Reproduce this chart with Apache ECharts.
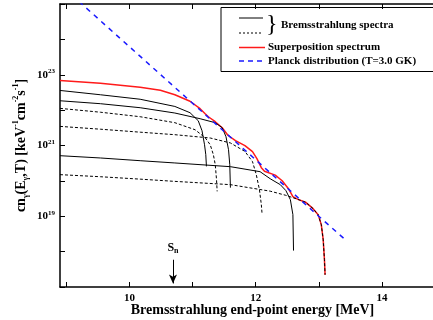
<!DOCTYPE html>
<html>
<head>
<meta charset="utf-8">
<script src="https://cdn.jsdelivr.net/npm/echarts@6/dist/echarts.min.js"></script>
<style>
    html, body { margin: 0; padding: 0; background: #fff; }
    #chart { width: 433px; height: 320px; }
</style>
</head>
<body>
<div id="chart"></div>
<script>
// [end-point energy MeV, c*n(E,T)]
const superposition = [[8.9, 6.9e22], [9.54, 5.75e22], [10.17, 4.44e22], [10.49, 3.65e22], [10.72, 2.72e22],
    [10.96, 1.78e22], [11.12, 1.10e22], [11.20, 7.9e21], [11.25, 6.5e21], [11.36, 4.7e21], [11.47, 3.18e21],
    [11.56, 1.95e21], [11.68, 1.37e21], [11.83, 9.9e20], [11.95, 6.7e20], [12.02, 4.24e20], [12.09, 2.36e20],
    [12.14, 1.88e20], [12.31, 1.45e20], [12.42, 1.01e20], [12.52, 6.0e19], [12.59, 3.6e19], [12.67, 3.0e19],
    [12.79, 2.5e19], [12.91, 1.64e19], [12.99, 1.11e19], [13.04, 5.8e18], [13.07, 2.2e18], [13.09, 5.9e17],
    [13.10, 2.2e17]];
const bremsSolidA = [[8.9, 3.60e22], [9.54, 2.72e22], [10.17, 2.03e22], [10.72, 1.27e22], [10.96, 8.45e21],
    [11.09, 5.02e21], [11.15, 2.62e21], [11.19, 1.05e21], [11.21, 5.5e20], [11.22, 2.57e20]];
const bremsSolidB = [[8.9, 1.84e22], [9.54, 1.52e22], [10.17, 1.17e22], [10.72, 8.28e21], [11.12, 5.71e21],
    [11.36, 4.41e21], [11.47, 3.18e21], [11.53, 1.77e21], [11.57, 7.61e20], [11.59, 2.87e20], [11.60, 6.43e19]];
const bremsSolidC = [[8.9, 5.15e20], [9.54, 4.44e20], [10.17, 3.72e20], [10.72, 3.21e20], [11.60, 2.52e20],
    [12.07, 1.82e20], [12.23, 1.15e20], [12.39, 7.82e19], [12.48, 5.29e19], [12.55, 2.94e19], [12.59, 1.11e19],
    [12.60, 1.07e18]];
const bremsDashA = [[8.9, 1.12e22], [9.54, 8.73e21], [10.17, 6.51e21], [10.72, 4.41e21], [11.04, 2.79e21],
    [11.20, 1.66e21], [11.28, 1.05e21], [11.33, 5.5e20], [11.36, 2.87e20], [11.38, 1.08e20], [11.39, 5.05e19]];
const bremsDashB = [[8.9, 3.47e21], [9.54, 2.89e21], [10.17, 2.38e21], [10.72, 2.02e21], [11.28, 1.63e21],
    [11.60, 1.18e21], [11.83, 6.81e20], [11.95, 3.49e20], [12.01, 1.50e20], [12.06, 5.64e19], [12.09, 2.13e19],
    [12.10, 1.26e19]];
const bremsDashC = [[8.9, 1.50e20], [9.54, 1.31e20], [10.17, 1.12e20], [10.72, 9.68e19], [11.60, 7.82e19],
    [12.23, 5.12e19], [12.47, 3.94e19], [12.66, 3.04e19], [12.79, 2.50e19], [12.91, 1.64e19], [12.99, 1.11e19],
    [13.04, 5.79e18], [13.07, 2.18e18], [13.09, 5.94e17], [13.10, 2.24e17]];
const planck = [[9.2, 1.18e25], [10, 6.2e23], [11, 1.57e22], [12, 3.96e20], [13, 1.0e19], [13.45, 1.95e18]];

const xTicks = [9, 10, 11, 12, 13, 14, 15];
const xLabels = [10, 12, 14];
const yLabelExps = [19, 21, 23];
const snEnergy = 10.69;
const snArrow = [5.9e17, 1.26e17];

const font = 'Liberation Serif';
const black = '#000';

const myChart = echarts.init(document.getElementById('chart'));

function curve(data, color, width, dash) {
    return {
        type: 'line',
        data: data,
        symbol: 'none',
        animation: false,
        lineStyle: { color: color, width: width, type: dash || 'solid' }
    };
}

const series = [
    curve(superposition, '#ff1a1a', 1.5),
    curve(bremsSolidA, black, 1),
    curve(bremsSolidB, black, 1),
    curve(bremsSolidC, black, 1),
    curve(bremsDashA, black, 1, [3, 2]),
    curve(bremsDashB, black, 1, [3, 2]),
    curve(bremsDashC, black, 1, [3, 2]),
    curve(planck, '#1a1aff', 1.5, [5, 5])
];
// S_n arrow
series.push({
    type: 'line',
    data: [],
    markLine: {
        silent: true,
        animation: false,
        symbol: ['none', 'arrow'],
        symbolSize: [6, 9],
        lineStyle: { color: black, width: 1, type: 'solid' },
        label: {
            position: 'start',
            formatter: '{b|S}{s|n}',
            rich: {
                b: { fontFamily: font, fontWeight: 'bold', fontSize: 12, color: black },
                s: { fontFamily: font, fontWeight: 'bold', fontSize: 8, color: black, verticalAlign: 'bottom', padding: [6, 0, 0, 0] }
            }
        },
        data: [[{ coord: [snEnergy, snArrow[0]] }, { coord: [snEnergy, snArrow[1]] }]]
    }
});

const tickStyle = { show: true, inside: true, length: 5, lineStyle: { color: black, width: 1 } };

const option = {
    animation: false,
    grid: { left: 60, top: 4, width: 385, height: 283, outerBoundsMode: 'none', containLabel: false },
    xAxis: [{
        type: 'value',
        min: 8.9,
        max: 15,
        name: 'Bremsstrahlung end-point energy [MeV]',
        nameLocation: 'middle',
        nameGap: 16,
        nameMoveOverlap: false,
        nameTextStyle: { fontFamily: font, fontWeight: 'bold', fontSize: 14, color: black },
        axisLine: { lineStyle: { color: black, width: 1.5 } },
        axisTick: Object.assign({ customValues: xTicks }, tickStyle),
        axisLabel: {
            customValues: xLabels,
            margin: 6,
            fontFamily: font, fontWeight: 'bold', fontSize: 11, color: black
        },
        splitLine: { show: false }
    }, {
        type: 'value',
        position: 'top',
        min: 8.9,
        max: 15,
        axisLine: { lineStyle: { color: black, width: 1.5 } },
        axisTick: Object.assign({ customValues: xTicks }, tickStyle),
        axisLabel: { show: false },
        splitLine: { show: false }
    }],
    yAxis: {
        type: 'log',
        logBase: 10,
        min: 1e17,
        max: 1e25,
        splitNumber: 8,
        name: '{b|cn}{sub|γ}{b|(E}{sub|γ}{b|,T) [keV}{sup|-1}{b|cm}{sup|-2}{b|s}{sup|-1}{b|]}',
        nameLocation: 'middle',
        nameGap: 30,
        nameRotate: 90,
        nameMoveOverlap: false,
        nameTextStyle: {
            rich: {
                b: { fontFamily: font, fontWeight: 'bold', fontSize: 14, color: black, lineHeight: 18 },
                sub: { fontFamily: font, fontWeight: 'bold', fontSize: 8, color: black, verticalAlign: 'bottom', lineHeight: 18 },
                sup: { fontFamily: font, fontWeight: 'bold', fontSize: 8, color: black, verticalAlign: 'top', lineHeight: 8 }
            }
        },
        axisLine: { show: true, lineStyle: { color: black, width: 1.5 } },
        axisTick: tickStyle,
        axisLabel: {
            margin: 5,
            formatter: function (v) {
                const e = Math.round(Math.log10(v));
                return yLabelExps.indexOf(e) >= 0 ? '{b|10}{sup|' + e + '}' : '';
            },
            rich: {
                b: { fontFamily: font, fontWeight: 'bold', fontSize: 11, color: black, lineHeight: 14 },
                sup: { fontFamily: font, fontWeight: 'bold', fontSize: 7, color: black, verticalAlign: 'top', lineHeight: 7 }
            }
        },
        splitLine: { show: false }
    },
    graphic: [
        { type: 'rect', shape: { x: 221, y: 7.5, width: 240, height: 64 }, style: { fill: '#fff', stroke: black, lineWidth: 1 } },
        { type: 'line', shape: { x1: 239, y1: 18, x2: 263, y2: 18 }, style: { stroke: black, lineWidth: 1 } },
        { type: 'line', shape: { x1: 239, y1: 33, x2: 263, y2: 33 }, style: { stroke: black, lineWidth: 1, lineDash: [2, 2] } },
        { type: 'text', x: 266, y: 25, style: { text: '}', font: '24px "' + font + '"', fill: black, verticalAlign: 'middle' } },
        { type: 'text', x: 281, y: 25, style: { text: 'Bremsstrahlung spectra', font: 'bold 11px "' + font + '"', fill: black, verticalAlign: 'middle' } },
        { type: 'line', shape: { x1: 239, y1: 47.5, x2: 265, y2: 47.5 }, style: { stroke: '#ff1a1a', lineWidth: 1.5 } },
        { type: 'text', x: 268, y: 47.5, style: { text: 'Superposition spectrum', font: 'bold 11px "' + font + '"', fill: black, verticalAlign: 'middle' } },
        { type: 'line', shape: { x1: 239, y1: 61, x2: 265, y2: 61 }, style: { stroke: '#1a1aff', lineWidth: 1.5, lineDash: [5, 4] } },
        { type: 'text', x: 268, y: 61, style: { text: 'Planck distribution (T=3.0 GK)', font: 'bold 11px "' + font + '"', fill: black, verticalAlign: 'middle' } }
    ],
    series: series
};

myChart.setOption(option);
</script>
</body>
</html>
